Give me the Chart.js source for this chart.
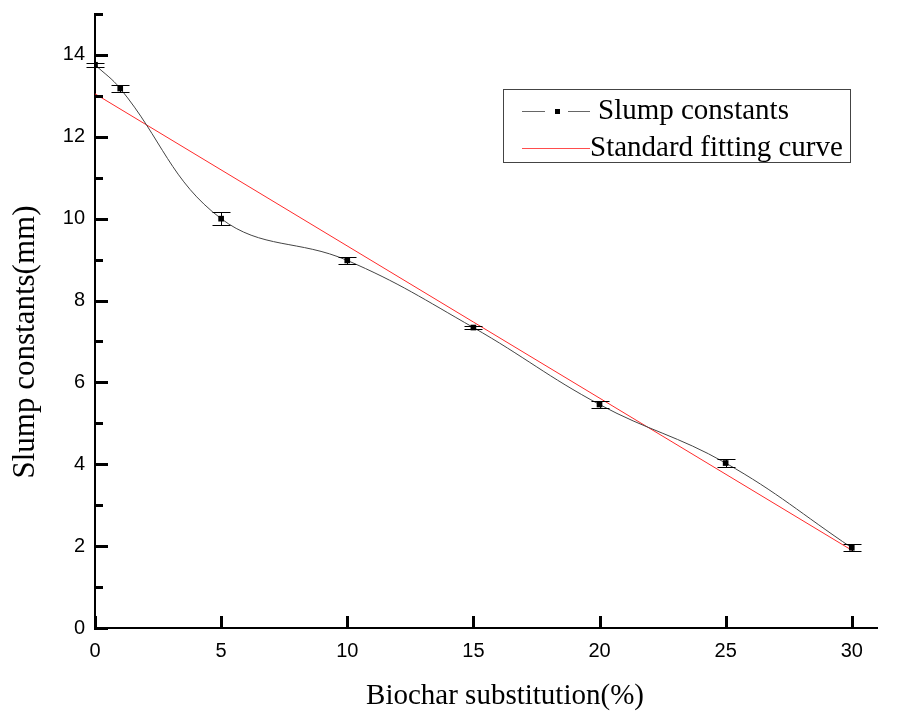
<!DOCTYPE html>
<html>
<head>
<meta charset="utf-8">
<script src="https://cdn.jsdelivr.net/npm/chart.js@4.4.0/dist/chart.umd.min.js"></script>
<style>
  html, body { margin: 0; padding: 0; background: #fff; }
  .box { width: 904px; height: 711px; position: relative; }
</style>
</head>
<body>
<div class="box"><canvas id="slumpChart" width="904" height="711"></canvas></div>
<script>
// data
const substitution = [0, 1, 5, 10, 15, 20, 25, 30];
const slump = [13.76, 13.18, 10.0, 8.98, 7.34, 5.46, 4.03, 1.96];
const slumpErr = [0.05, 0.09, 0.16, 0.08, 0.04, 0.08, 0.1, 0.08];
const fitX = [0, 30];
const fitY = [13.05, 1.9];
const xTicks = [0, 5, 10, 15, 20, 25, 30];
const yTicks = [0, 2, 4, 6, 8, 10, 12, 14];
const yMinor = [1, 3, 5, 7, 9, 11, 13, 15];

const serif = "'Liberation Serif', 'Times New Roman', serif";
const sans = "'Liberation Sans', Arial, sans-serif";

// error bars, drawn through the scales
const errorBars = {
    id: 'errorBars',
    afterDatasetsDraw(chart) {
        const ctx = chart.ctx,
            xs = chart.scales.x,
            ys = chart.scales.y;
        ctx.save();
        ctx.strokeStyle = '#000';
        ctx.lineWidth = 1;
        substitution.forEach((v, i) => {
            let px = Math.round(xs.getPixelForValue(v)) + 0.5;
            let top = Math.round(ys.getPixelForValue(slump[i] + slumpErr[i])) + 0.5;
            let bot = Math.round(ys.getPixelForValue(slump[i] - slumpErr[i])) + 0.5;
            ctx.beginPath();
            ctx.moveTo(px, top); ctx.lineTo(px, bot);
            ctx.moveTo(px - 9, top); ctx.lineTo(px + 9, top);
            ctx.moveTo(px - 9, bot); ctx.lineTo(px + 9, bot);
            ctx.stroke();
        });
        ctx.restore();
    }
};

// inward tick marks, axis titles, legend box
const frame = {
    id: 'frame',
    afterDraw(chart) {
        const ctx = chart.ctx,
            xs = chart.scales.x,
            ys = chart.scales.y,
            area = chart.chartArea;
        ctx.save();
        ctx.fillStyle = '#000';
        for (let i = 0; i < yTicks.length; i++) {
            let py = Math.round(ys.getPixelForValue(yTicks[i]));
            ctx.fillRect(area.left - 1, py - 1, 14, 3);
        }
        for (let i = 0; i < yMinor.length; i++) {
            let py = Math.round(ys.getPixelForValue(yMinor[i]));
            ctx.fillRect(area.left - 1, py - 1, 9, 3);
        }
        for (let i = 0; i < xTicks.length; i++) {
            let px = Math.round(xs.getPixelForValue(xTicks[i]));
            ctx.fillRect(px - 1, area.bottom - 12, 3, 13);
        }

        // axis titles
        ctx.textAlign = 'center';
        ctx.textBaseline = 'alphabetic';
        ctx.font = '29px ' + serif;
        ctx.fillText('Biochar substitution(%)', 505, 704);
        ctx.save();
        ctx.translate(34, 342);
        ctx.rotate(-Math.PI / 2);
        ctx.font = '31px ' + serif;
        ctx.fillText('Slump constants(mm)', 0, 0);
        ctx.restore();

        // legend
        ctx.textAlign = 'left';
        ctx.lineWidth = 1;
        ctx.strokeStyle = '#444';
        ctx.strokeRect(503.5, 89.5, 347, 73);

        ctx.strokeStyle = '#666';
        ctx.beginPath();
        ctx.moveTo(522, 111.5); ctx.lineTo(545, 111.5);
        ctx.moveTo(568, 111.5); ctx.lineTo(590, 111.5);
        ctx.stroke();
        ctx.fillRect(555, 109, 5, 5);

        ctx.strokeStyle = '#ff4d4d';
        ctx.beginPath();
        ctx.moveTo(522, 148.5); ctx.lineTo(590, 148.5);
        ctx.stroke();

        ctx.font = '29px ' + serif;
        ctx.fillText('Slump constants', 598, 119);
        ctx.fillText('Standard fitting curve', 590, 156);
        ctx.restore();
    }
};

const cfg = document.getElementById('slumpChart').getContext('2d');
const slumpChart = new Chart(cfg, {
    type: 'scatter',
    data: {
        datasets: [
            {
                label: 'Slump constants',
                data: substitution.map((v, i) => ({ x: v, y: slump[i] })),
                showLine: true,
                tension: 0.4,
                borderColor: '#444',
                borderWidth: 1,
                pointStyle: 'rect',
                pointRadius: 4,
                pointBackgroundColor: '#000',
                pointBorderColor: '#000',
                pointBorderWidth: 0
            },
            {
                label: 'Standard fitting curve',
                data: fitX.map((v, i) => ({ x: v, y: fitY[i] })),
                showLine: true,
                borderColor: '#ff2a2a',
                borderWidth: 1,
                pointRadius: 0
            }
        ]
    },
    plugins: [errorBars, frame],
    options: {
        responsive: false,
        animation: false,
        layout: { padding: { top: 14, right: 27, left: 0, bottom: 0 } },
        plugins: {
            legend: { display: false },
            tooltip: { enabled: false }
        },
        scales: {
            x: {
                type: 'linear',
                min: 0,
                max: 31,
                afterFit: s => { s.height = 83; },
                grid: { display: false, drawTicks: false },
                border: { display: true, color: '#000', width: 2 },
                ticks: {
                    stepSize: 5,
                    includeBounds: false,
                    padding: 11,
                    color: '#000',
                    font: { family: sans, size: 20 }
                }
            },
            y: {
                min: 0,
                max: 15,
                // keep the top of the axis where the figure has it
                afterFit: s => { s.width = 95; s.paddingTop = 0; s.paddingBottom = 0; },
                grid: { display: false, drawTicks: false },
                border: { display: true, color: '#000', width: 2 },
                ticks: {
                    stepSize: 2,
                    includeBounds: false,
                    padding: 10,
                    color: '#000',
                    font: { family: sans, size: 20 }
                }
            }
        }
    }
});
</script>
</body>
</html>
